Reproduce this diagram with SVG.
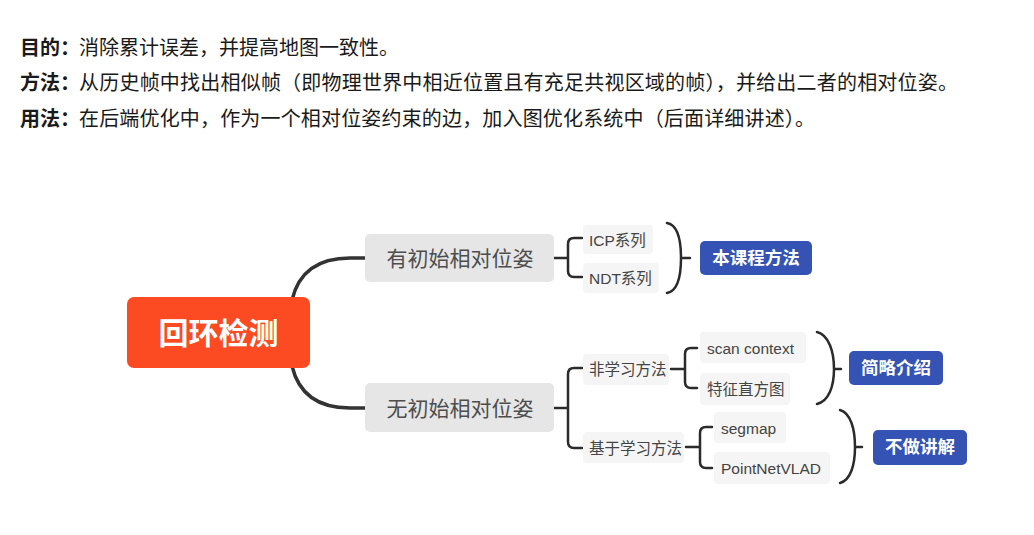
<svg xmlns="http://www.w3.org/2000/svg" width="1034" height="535" viewBox="0 0 1034 535">
<style>
text{font-family:"Liberation Sans","Noto Sans CJK SC",sans-serif}
.hdr{font-size:20px;fill:#1a1a1a}
.hb{font-weight:bold}
.main{fill:#e6e6e6}
.mt{font-size:21px;fill:#4d4d4d;text-anchor:middle;dominant-baseline:central}
.leaf{fill:#f5f5f5}
.lt{font-size:15.5px;fill:#444;dominant-baseline:central}
.blue{fill:#3552b5}
.bt{font-size:17.5px;font-weight:bold;fill:#fff;text-anchor:middle;dominant-baseline:central}
.c{fill:none;stroke:#333;stroke-width:3.5;stroke-linecap:round}
.b{fill:none;stroke:#2b2b2b;stroke-width:2.5;stroke-linecap:round;stroke-linejoin:round}
</style>
<rect width="1034" height="535" fill="#ffffff"/>
<g id="header">
<text class="hdr" y="55"><tspan class="hb" x="20">目的：</tspan></text>
<text class="hdr" x="79" y="55" textLength="320" lengthAdjust="spacing">消除累计误差，并提高地图一致性。</text>
<text class="hdr" y="90"><tspan class="hb" x="20">方法：</tspan></text>
<text class="hdr" x="79" y="90" textLength="879" lengthAdjust="spacing">从历史帧中找出相似帧（即物理世界中相近位置且有充足共视区域的帧），并给出二者的相对位姿。</text>
<text class="hdr" y="126"><tspan class="hb" x="20">用法：</tspan></text>
<text class="hdr" x="79" y="126" textLength="736" lengthAdjust="spacing">在后端优化中，作为一个相对位姿约束的边，加入图优化系统中（后面详细讲述）。</text>
</g>
<g id="connectors">
<path class="c" d="M292 300 Q302 258 350 258 L366 258"/>
<path class="c" d="M292 366 Q302 408 350 408 L366 408"/>
<path class="b" d="M554 258 L568 258 M582 238 L574 238 Q568 238 568 244 L568 271 Q568 277 574 277 L582 277"/>
<path class="b" d="M667 223 C678 225 681 242 681 258 C681 274 678 291 667 293 M681 258 L690 258"/>
<path class="b" d="M554 408 L568 408 M582 368 L574 368 Q568 368 568 374 L568 442 Q568 448 574 448 L582 448"/>
<path class="b" d="M671 369 L685 369 M697 348 L691 348 Q685 348 685 354 L685 382 Q685 388 691 388 L697 388"/>
<path class="b" d="M686 447 L700 447 M712 427 L706 427 Q700 427 700 433 L700 462 Q700 468 706 468 L712 468"/>
<path class="b" d="M817 332 C829 335 834 352 834 369 C834 386 829 401 817 404 M834 369 L841 369"/>
<path class="b" d="M840 410 C851 413 855 430 855 447 C855 464 851 480 840 483 M855 447 L862 447"/>
</g>
<g id="n-root">
<rect x="127" y="297" width="183" height="71" rx="7" fill="#fc4a22"/>
<text x="218.5" y="333" font-size="30" font-weight="bold" fill="#fff" text-anchor="middle" dominant-baseline="central">回环检测</text>
</g>
<g id="n-with">
<rect class="main" x="365" y="234" width="189" height="48" rx="5"/>
<text class="mt" x="460" y="258">有初始相对位姿</text>
</g>
<g id="n-without">
<rect class="main" x="365" y="383" width="189" height="49" rx="5"/>
<text class="mt" x="460" y="408">无初始相对位姿</text>
</g>
<g id="n-icp">
<rect class="leaf" x="583" y="225" width="70" height="29" rx="4"/>
<text class="lt" x="589" y="240">ICP系列</text>
</g>
<g id="n-ndt">
<rect class="leaf" x="583" y="263" width="76" height="30" rx="4"/>
<text class="lt" x="589" y="278">NDT系列</text>
</g>
<g id="n-course">
<rect class="blue" x="700" y="241" width="112" height="34" rx="5"/>
<text class="bt" x="756" y="258">本课程方法</text>
</g>
<g id="n-nonlearn">
<rect class="leaf" x="583" y="354" width="86" height="31" rx="4"/>
<text class="lt" x="589" y="369">非学习方法</text>
</g>
<g id="n-learn">
<rect class="leaf" x="583" y="432" width="101" height="31" rx="4"/>
<text class="lt" x="589" y="448">基于学习方法</text>
</g>
<g id="n-scan">
<rect class="leaf" x="700" y="332" width="106" height="31" rx="4"/>
<text class="lt" x="707" y="348" font-size="16">scan context</text>
</g>
<g id="n-hist">
<rect class="leaf" x="700" y="373" width="90" height="32" rx="4"/>
<text class="lt" x="707" y="389">特征直方图</text>
</g>
<g id="n-brief">
<rect class="blue" x="849" y="351" width="94" height="34" rx="5"/>
<text class="bt" x="896" y="368">简略介绍</text>
</g>
<g id="n-segmap">
<rect class="leaf" x="714" y="412" width="72" height="31" rx="4"/>
<text class="lt" x="721" y="428" font-size="16">segmap</text>
</g>
<g id="n-pnv">
<rect class="leaf" x="714" y="452" width="116" height="32" rx="4"/>
<text class="lt" x="721" y="468" font-size="16">PointNetVLAD</text>
</g>
<g id="n-skip">
<rect class="blue" x="873" y="430" width="94" height="35" rx="5"/>
<text class="bt" x="920" y="447">不做讲解</text>
</g>
</svg>
